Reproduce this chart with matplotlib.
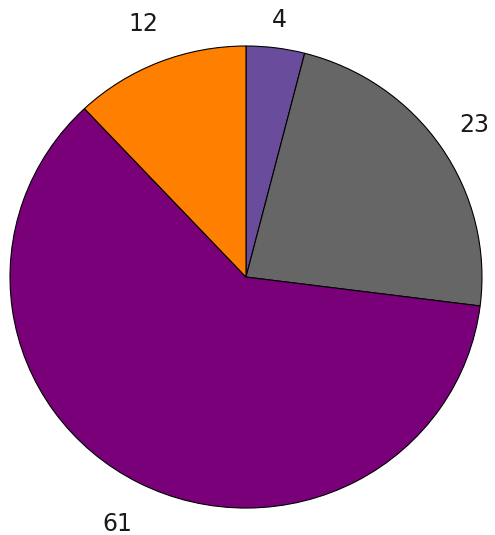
import matplotlib
matplotlib.use("Agg")
import matplotlib.pyplot as plt
import numpy as np

values = [4, 23, 61, 12]
labels = ["4", "23", "61", "12"]
colors = ["#6a4c9c", "#666666", "#7a007a", "#ff7f00"]
label_dist = [1.12, 1.17, 1.20, 1.18]

fig = plt.figure(figsize=(4.95, 5.35), dpi=100)
ax = fig.add_axes([0.0202, 0.0504, 0.9535, 0.8636])
ax.pie(values, colors=colors, startangle=90, counterclock=False,
       wedgeprops={"edgecolor": "black", "linewidth": 0.8})
ax.set_aspect("auto")
ax.set_xlim(-1, 1)
ax.set_ylim(-1, 1)

# labels at slice midpoints
frac = np.array(values) / sum(values)
mids = 90 - 360 * (np.cumsum(frac) - frac / 2)
for lab, ang, d in zip(labels, mids, label_dist):
    a = np.deg2rad(ang)
    ax.text(d * np.cos(a), d * np.sin(a), lab, ha="center", va="center",
            fontsize=17, color="#1a1a1a", clip_on=False)

plt.savefig("out.png", dpi=100)
plt.close()
